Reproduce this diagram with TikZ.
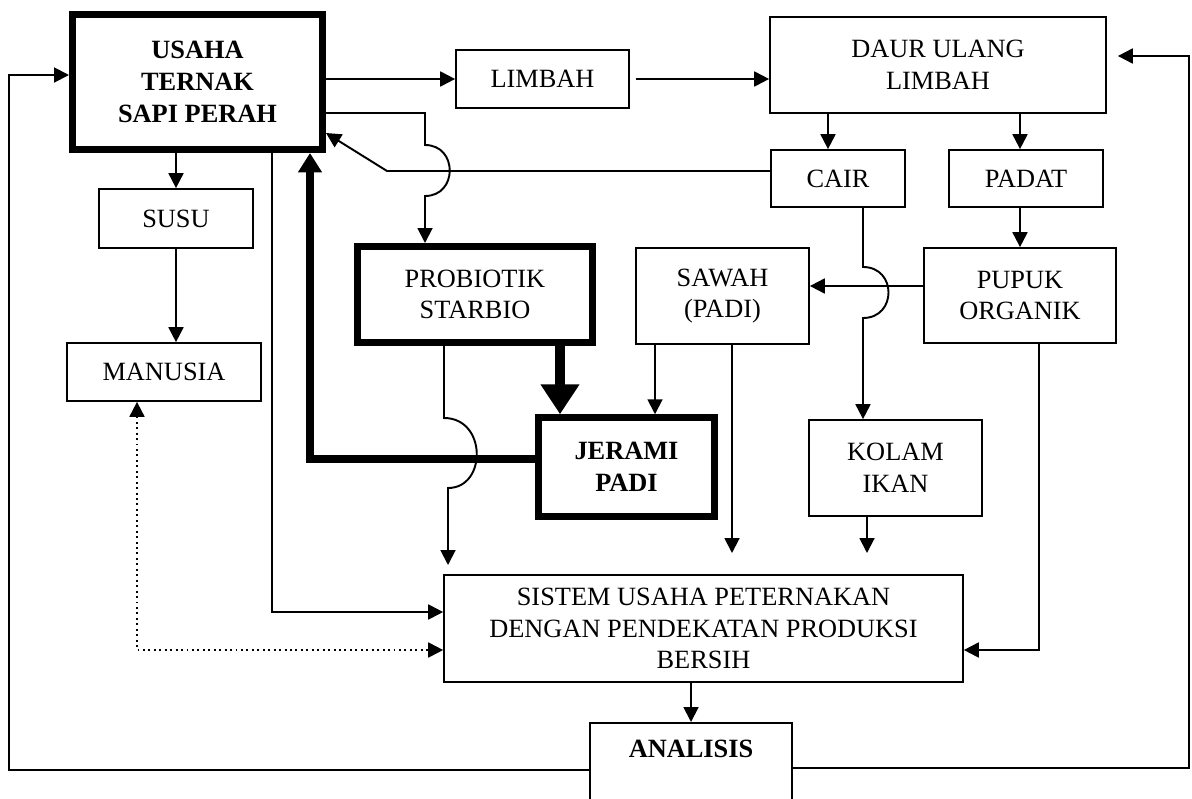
\documentclass[tikz,border=0pt]{standalone}
\usepackage{fontspec}
\setmainfont{Liberation Serif}
\usetikzlibrary{arrows.meta,calc}

\tikzset{
  box/.style={draw, line width=1pt, align=center, inner sep=0pt,
              font=\fontsize{15}{18}\selectfont},
  thickbox/.style={box, line width=4pt},
  line/.style={line width=1.1pt},
  arr/.style={line, -{Triangle[length=8.5pt,width=8.5pt]}},
  fatarr/.style={line width=4pt, -{Triangle[length=11pt,width=13pt]}},
  fatterarr/.style={line width=5.5pt, -{Triangle[length=17pt,width=21pt]}},
}

\begin{document}
\begin{tikzpicture}[x=0.02cm, y=-0.02cm]
  \useasboundingbox (0,0) rectangle (1192,798);
  \clip (0,0) rectangle (1192,798);

  % boxes
  \node[thickbox, font=\fontsize{15}{18}\selectfont\bfseries, minimum width=5cm, minimum height=2.7cm]
    (usaha) at (197.5,82) {USAHA\\TERNAK\\SAPI PERAH};
  \node[box, minimum width=3.46cm, minimum height=1.16cm] (limbah) at (542.5,79) {LIMBAH};
  \node[box, minimum width=6.72cm, minimum height=1.92cm] (daur) at (938,65) {DAUR ULANG\\LIMBAH};
  \node[box, minimum width=2.68cm, minimum height=1.14cm] (cair) at (838,178.5) {CAIR};
  \node[box, minimum width=3.08cm, minimum height=1.14cm] (padat) at (1026,178.5) {PADAT};
  \node[box, minimum width=3.08cm, minimum height=1.18cm] (susu) at (176,218.5) {SUSU};
  \node[box, minimum width=3.88cm, minimum height=1.16cm] (manusia) at (164,372) {MANUSIA};
  \node[thickbox, minimum width=4.7cm, minimum height=1.92cm] (probiotik) at (475,294.5) {PROBIOTIK\\STARBIO};
  \node[box, minimum width=3.46cm, minimum height=1.92cm] (sawah) at (722.5,296) {SAWAH\\(PADI)};
  \node[box, minimum width=3.84cm, minimum height=1.9cm] (pupuk) at (1020,295.5) {PUPUK\\ORGANIK};
  \node[thickbox, font=\fontsize{15}{18}\selectfont\bfseries, minimum width=3.51cm, minimum height=1.97cm]
    (jerami) at (626.5,467) {JERAMI\\PADI};
  \node[box, minimum width=3.46cm, minimum height=1.92cm] (kolam) at (895.5,468) {KOLAM\\IKAN};
  \node[box, minimum width=10.38cm, minimum height=2.14cm] (sistem) at (703.5,628.5)
    {SISTEM USAHA PETERNAKAN\\DENGAN PENDEKATAN PRODUKSI\\BERSIH};
  \node[box, font=\fontsize{15}{18}\selectfont\bfseries, anchor=north, minimum width=4.04cm,
        text height=0.7cm, text depth=1.5cm] (analisis) at (691,722) {ANALISIS};

  % loose arrow ends
  \coordinate (endP) at (448,565);
  \coordinate (endS) at (732,553);
  \coordinate (endK) at (867,553);

  % top row
  \draw[arr] (usaha.east |- limbah.west) -- (limbah.west);
  \draw[arr, shorten <=0.12cm] (limbah.east) -- (daur.west |- limbah.east);
  \draw[arr] (daur.south -| 828,0) -- (cair.north -| 828,0);
  \draw[arr] (daur.south -| pupuk.north) -- (padat.north -| pupuk.north);
  \draw[arr] (padat.south -| pupuk.north) -- (pupuk.north);
  \draw[arr] (pupuk.west |- 0,286) -- (sawah.east |- 0,286);

  % cair back to usaha
  \draw[arr] (cair.west |- 0,171) -- (387,171) -- (usaha.east |- 0,133);

  % usaha to probiotik, hop over
  \draw[arr] (usaha.east |- 0,113) -- (425,113) -- (425,145)
    .. controls (458,145) and (458,196) .. (425,196) -- (probiotik.north -| 425,0);

  % cair to kolam, hop over
  \draw[arr] (cair.south -| 863,0) -- (863,267)
    .. controls (897,267) and (897,318) .. (863,318) -- (kolam.north -| 863,0);
  \draw[arr] (kolam.south -| endK) -- (endK);

  % left column
  \draw[arr] (usaha.south -| susu.north) -- (susu.north);
  \draw[arr] (susu.south) -- (susu.south |- manusia.north);
  \draw[arr] (usaha.south -| 272,0) -- (272,612) -- (sistem.west |- 0,612);
  \draw[line, dotted, {Triangle[length=8.5pt,width=8.5pt]}-{Triangle[length=8.5pt,width=8.5pt]}]
    (manusia.south -| 137,0) -- (137,650) -- (sistem.west |- 0,650);

  % jerami back to usaha
  \draw[fatarr] (jerami.west |- 0,459) -- (310,459) -- (usaha.south -| 310,0);
  \draw[fatterarr] (probiotik.south -| 560,0) -- (jerami.north -| 560,0);

  % probiotik down, hop over
  \draw[arr] (probiotik.south -| 444,0) -- (444,418)
    .. controls (487,418) and (487,488) .. (448,488) -- (endP);

  % sawah
  \draw[arr] (sawah.south -| 655,0) -- (jerami.north -| 655,0);
  \draw[arr] (sawah.south -| endS) -- (endS);

  % pupuk into sistem
  \draw[arr] (pupuk.south -| 1039,0) -- (1039,650) -- (sistem.east |- 0,650);

  % sistem and analisis
  \draw[arr] (sistem.south -| analisis.north) -- (analisis.north);
  \draw[arr] (analisis.north west |- 0,770) -- (9,770) -- (9,75) -- (usaha.west |- 0,75);
  \draw[arr, shorten >=0.22cm] (analisis.north east |- 0,768) -- (1189,768) -- (1189,56)
    -- (daur.east |- 0,56);
\end{tikzpicture}
\end{document}
